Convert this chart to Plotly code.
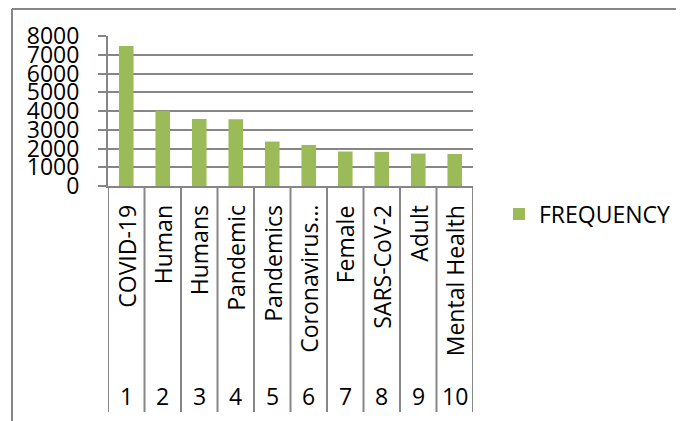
import plotly.graph_objects as go

categories = ["COVID-19", "Human", "Humans", "Pandemic", "Pandemics",
              "Coronavirus…", "Female", "SARS-CoV-2", "Adult", "Mental Health"]
ranks = ["1", "2", "3", "4", "5", "6", "7", "8", "9", "10"]
frequency = [7470, 4010, 3570, 3560, 2370, 2190, 1840, 1820, 1730, 1710]
series_name = "FREQUENCY"
y_ticks = [0, 1000, 2000, 3000, 4000, 5000, 6000, 7000, 8000]

W, H = 684, 421
OFF = 8  # page body margin: the figure is drawn 8px right and down
FONT = "Open Sans"
GRAY = "#868686"
GREEN = "#9BBB59"

def px_x(p):
    return (p - OFF) / W

def px_y(p):
    return (H - (p - OFF)) / H

positions = list(range(len(categories)))

fig = go.Figure()
fig.add_trace(go.Bar(
    x=positions, y=frequency, name=series_name,
    marker=dict(color=GREEN, line=dict(width=0)),
    width=0.4, showlegend=True,
))

shapes = []
# outer chart frame: left and top edges (right/bottom run off the image)
top_frame = min(px_y(6), 1 - 1 / H)
shapes.append(dict(type="line", xref="paper", yref="paper",
                   x0=px_x(12), x1=px_x(12), y0=0, y1=top_frame,
                   line=dict(color=GRAY, width=2), layer="below"))
shapes.append(dict(type="line", xref="paper", yref="paper",
                   x0=px_x(12), x1=1, y0=top_frame, y1=top_frame,
                   line=dict(color=GRAY, width=2), layer="below"))
# category separators for the multi-level axis
for i in range(len(categories) + 1):
    shapes.append(dict(type="line", xref="x", yref="paper",
                       x0=i - 0.5, x1=i - 0.5, y0=px_y(186), y1=px_y(412),
                       line=dict(color=GRAY, width=2)))

annotations = []
for i, (c, r) in enumerate(zip(categories, ranks)):
    annotations.append(dict(x=i, y=px_y(203), xref="x", yref="paper",
                            text=c, textangle=-90, showarrow=False,
                            xanchor="center", yanchor="top",
                            font=dict(family=FONT, size=23, color="black")))
    annotations.append(dict(x=i, y=px_y(396), xref="x", yref="paper",
                            text=r, showarrow=False,
                            xanchor="center", yanchor="middle",
                            font=dict(family=FONT, size=23, color="black")))

fig.update_layout(
    width=W, height=H,
    margin=dict(l=0, r=0, t=0, b=0, pad=0, autoexpand=False),
    paper_bgcolor="white", plot_bgcolor="white",
    font=dict(family=FONT, size=23, color="black"),
    bargap=0.6,
    xaxis=dict(domain=[px_x(108), px_x(473)], range=[-0.5, 9.5],
               showticklabels=False, showgrid=False, zeroline=False,
               showline=True, linecolor=GRAY, linewidth=2, ticks="",
               automargin=False),
    yaxis=dict(domain=[px_y(186), px_y(36)], range=[0, 8000],
               tickvals=y_ticks, ticktext=[str(v) for v in y_ticks],
               showgrid=True, gridcolor=GRAY, gridwidth=2,
               zeroline=False, showline=True, linecolor=GRAY, linewidth=2,
               ticks="outside", ticklen=8, tickcolor=GRAY, tickwidth=2,
               ticklabelstandoff=14, automargin=False,
               tickfont=dict(family=FONT, size=23, color="black")),
    legend=dict(x=px_x(499), y=px_y(214), xanchor="left", yanchor="middle",
                bgcolor="rgba(0,0,0,0)", borderwidth=0,
                font=dict(family=FONT, size=23, color="black")),
    shapes=shapes,
    annotations=annotations,
)

fig.write_html("out.html")
